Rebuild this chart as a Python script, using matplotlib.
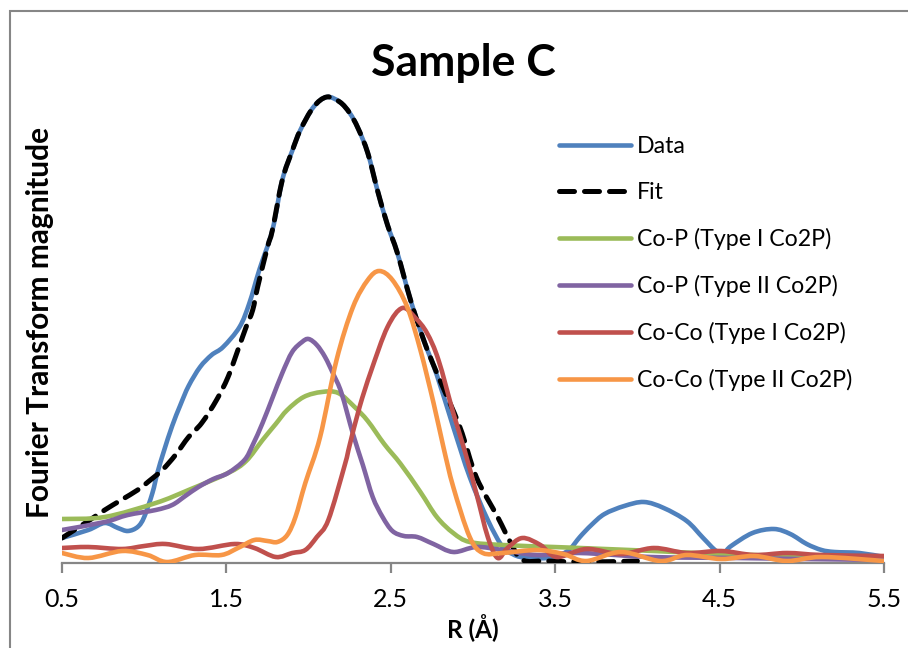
import numpy as np
import matplotlib
matplotlib.use("Agg")
import matplotlib.pyplot as plt
from matplotlib.patches import Rectangle, PathPatch
from matplotlib.path import Path
from matplotlib.lines import Line2D

plt.rcParams['font.family'] = ['Lato', 'DejaVu Sans']

# Data
data_r = [0.50, 0.66, 0.76, 0.84, 0.90, 0.96, 1.00, 1.05, 1.08, 1.12, 1.17, 1.22, 1.27, 1.34,
          1.41, 1.48, 1.58, 1.64, 1.70, 1.78, 1.84, 1.90, 1.95, 2.03, 2.11, 2.19, 2.25, 2.30,
          2.36, 2.42, 2.48, 2.54, 2.62, 2.70, 2.78, 2.88, 2.98, 3.09, 3.18, 3.24, 3.29, 3.37,
          3.45, 3.53, 3.59, 3.65, 3.72, 3.80, 3.92, 4.04, 4.16, 4.30, 4.40, 4.48, 4.53, 4.57,
          4.70, 4.83, 4.93, 5.03, 5.12, 5.20, 5.35, 5.50]
data_v = [0.25, 0.33, 0.40, 0.35, 0.32, 0.36, 0.46, 0.70, 0.90, 1.12, 1.37, 1.58, 1.77, 1.96,
          2.08, 2.16, 2.36, 2.60, 2.93, 3.33, 3.83, 4.12, 4.33, 4.56, 4.66, 4.61, 4.50, 4.35,
          4.10, 3.72, 3.38, 3.10, 2.63, 2.23, 1.88, 1.36, 0.86, 0.43, 0.16, 0.09, 0.06, 0.05,
          0.05, 0.08, 0.14, 0.26, 0.38, 0.49, 0.57, 0.61, 0.55, 0.42, 0.25, 0.12, 0.11, 0.17,
          0.30, 0.34, 0.29, 0.19, 0.13, 0.11, 0.10, 0.06]

fit_r = [0.50, 0.66, 0.76, 0.86, 0.96, 1.03, 1.11, 1.19, 1.27, 1.35, 1.44, 1.51, 1.57, 1.62,
         1.66, 1.69, 1.75, 1.78, 1.84, 1.90, 1.95, 2.03, 2.11, 2.19, 2.25, 2.30, 2.36, 2.42,
         2.48, 2.54, 2.62, 2.70, 2.78, 2.92, 3.02, 3.15, 3.23, 3.30, 3.45, 3.70, 4.00]
fit_v = [0.25, 0.42, 0.53, 0.63, 0.73, 0.82, 0.93, 1.08, 1.26, 1.40, 1.63, 1.86, 2.13, 2.36,
         2.53, 2.76, 3.16, 3.33, 3.83, 4.12, 4.33, 4.56, 4.66, 4.61, 4.50, 4.35, 4.10, 3.72,
         3.38, 3.10, 2.63, 2.23, 1.90, 1.36, 0.86, 0.46, 0.20, 0.03, 0.02, 0.01, 0.02]

cop1_r = [0.50, 0.76, 1.07, 1.27, 1.51, 1.62, 1.72, 1.80, 1.87, 1.97, 2.08, 2.18, 2.28, 2.36,
          2.46, 2.56, 2.68, 2.78, 2.88, 2.98, 3.18, 3.49, 3.65, 4.10, 4.51, 5.00, 5.50]
cop1_v = [0.44, 0.46, 0.60, 0.73, 0.90, 1.02, 1.23, 1.39, 1.53, 1.66, 1.71, 1.70, 1.56, 1.42,
          1.19, 0.99, 0.71, 0.46, 0.30, 0.21, 0.18, 0.16, 0.15, 0.12, 0.09, 0.07, 0.06]

cop2_r = [0.50, 0.76, 0.90, 1.07, 1.17, 1.25, 1.33, 1.42, 1.51, 1.61, 1.66, 1.72, 1.78, 1.84,
          1.90, 1.96, 2.00, 2.05, 2.10, 2.15, 2.20, 2.27, 2.33, 2.39, 2.45, 2.51, 2.58, 2.66,
          2.76, 2.88, 3.02, 3.18, 3.39, 3.65, 4.08, 4.60, 5.00, 5.50]
cop2_v = [0.33, 0.41, 0.48, 0.53, 0.58, 0.67, 0.76, 0.84, 0.90, 1.03, 1.18, 1.40, 1.65, 1.90,
          2.11, 2.21, 2.24, 2.18, 2.06, 1.89, 1.70, 1.29, 0.98, 0.66, 0.46, 0.32, 0.27, 0.26,
          0.19, 0.11, 0.16, 0.13, 0.08, 0.10, 0.06, 0.05, 0.04, 0.03]

coco1_r = [0.50, 0.66, 0.865, 1.00, 1.13, 1.33, 1.55, 1.67, 1.80, 1.90, 1.98, 2.05, 2.12, 2.22,
           2.25, 2.31, 2.38, 2.48, 2.57, 2.65, 2.72, 2.79, 2.88, 2.95, 3.02, 3.09, 3.15, 3.21,
           3.30, 3.41, 3.51, 3.69, 3.90, 4.10, 4.30, 4.51, 4.71, 4.91, 5.12, 5.50]
coco1_v = [0.15, 0.16, 0.14, 0.17, 0.19, 0.14, 0.19, 0.15, 0.06, 0.10, 0.13, 0.26, 0.43, 0.98,
           1.18, 1.56, 1.92, 2.36, 2.55, 2.45, 2.30, 2.03, 1.50, 1.12, 0.70, 0.26, 0.05, 0.15,
           0.25, 0.18, 0.06, 0.14, 0.09, 0.15, 0.10, 0.12, 0.08, 0.10, 0.08, 0.07]

coco2_r = [0.50, 0.66, 0.865, 1.02, 1.14, 1.31, 1.47, 1.57, 1.67, 1.75, 1.81, 1.87, 1.92, 1.98,
           2.07, 2.17, 2.27, 2.36, 2.43, 2.51, 2.60, 2.68, 2.76, 2.82, 2.88, 2.98, 3.06, 3.18,
           3.39, 3.55, 3.69, 3.90, 4.14, 4.30, 4.51, 4.71, 4.91, 5.12, 5.50]
coco2_v = [0.10, 0.05, 0.12, 0.08, 0.01, 0.08, 0.08, 0.15, 0.23, 0.22, 0.21, 0.28, 0.46, 0.80,
           1.26, 2.03, 2.56, 2.83, 2.92, 2.83, 2.56, 2.13, 1.60, 1.16, 0.76, 0.26, 0.10, 0.10,
           0.13, 0.09, 0.02, 0.11, 0.02, 0.08, 0.04, 0.07, 0.02, 0.06, 0.02]

x_ticks = [0.5, 1.5, 2.5, 3.5, 4.5, 5.5]


def smooth_path(xs, ys):
    # Excel-like "smoothed line": cubic Bezier segments through every point
    pts = np.column_stack([xs, ys])
    n = len(pts)
    verts = [pts[0]]
    codes = [Path.MOVETO]
    for i in range(n - 1):
        p0 = pts[max(i - 1, 0)]
        p1 = pts[i]
        p2 = pts[i + 1]
        p3 = pts[min(i + 2, n - 1)]
        verts += [p1 + (p2 - p0) / 6, p2 - (p3 - p1) / 6, p2]
        codes += [Path.CURVE4] * 3
    return Path(verts, codes)


fig = plt.figure(figsize=(9.08, 6.48), dpi=100)
ax = fig.add_axes([62 / 908, 85 / 648, 822 / 908, 500 / 648])

lw = 3.3
series = [
    (data_r, data_v, '#4F81BD', '-', 'Data'),
    (fit_r, fit_v, 'black', (0, (3.0, 2.0)), 'Fit'),
    (cop1_r, cop1_v, '#9BBB59', '-', 'Co-P (Type I Co2P)'),
    (cop2_r, cop2_v, '#8064A2', '-', 'Co-P (Type II Co2P)'),
    (coco1_r, coco1_v, '#C0504D', '-', 'Co-Co (Type I Co2P)'),
    (coco2_r, coco2_v, '#F79646', '-', 'Co-Co (Type II Co2P)'),
]
handles = []
for z, (xs, ys, col, ls, name) in enumerate(series):
    w = 3.6 if name == 'Fit' else lw
    patch = PathPatch(smooth_path(xs, ys), facecolor='none', edgecolor=col, lw=w,
                      linestyle=ls, capstyle='round', joinstyle='round',
                      transform=ax.transData, zorder=2 + z)
    ax.add_patch(patch)
    handles.append(Line2D([], [], color=col, lw=w, ls=ls, dash_capstyle='round',
                          solid_capstyle='round', label=name))

ax.set_xlim(0.5, 5.5)
ax.set_ylim(0, 5.0)
ax.set_xticks(x_ticks)
ax.set_xticklabels([str(t) for t in x_ticks], fontsize=18)
ax.set_yticks([])
for s in ['left', 'top', 'right']:
    ax.spines[s].set_visible(False)
ax.spines['bottom'].set_color('#868686')
ax.spines['bottom'].set_linewidth(1.6)
ax.tick_params(axis='x', length=7, width=1.6, color='#868686', pad=11)

ax.set_xlabel('R (Å)', fontsize=17.5, fontweight='bold', labelpad=2)
fig.text(40 / 908, 1 - 322 / 648, 'Fourier Transform magnitude', rotation=90,
         ha='center', va='center', fontsize=21.5, fontweight='bold')
fig.text(463 / 908, 1 - 63 / 648, 'Sample C', ha='center', va='center',
         fontsize=32, fontweight='bold')

ax.legend(handles=handles, loc='upper left', bbox_to_anchor=(538 / 908, 1 - 115 / 648),
          bbox_transform=fig.transFigure, frameon=False, fontsize=16.7,
          handlelength=3.1, handletextpad=0.25, labelspacing=1.08)

# outer chart border
fig.add_artist(Rectangle((10 / 908, -0.1), 1.0, 1 - 11 / 648 + 0.1,
                         transform=fig.transFigure, fill=False,
                         edgecolor='#868686', lw=1.5))

fig.savefig('out.png', dpi=100)
